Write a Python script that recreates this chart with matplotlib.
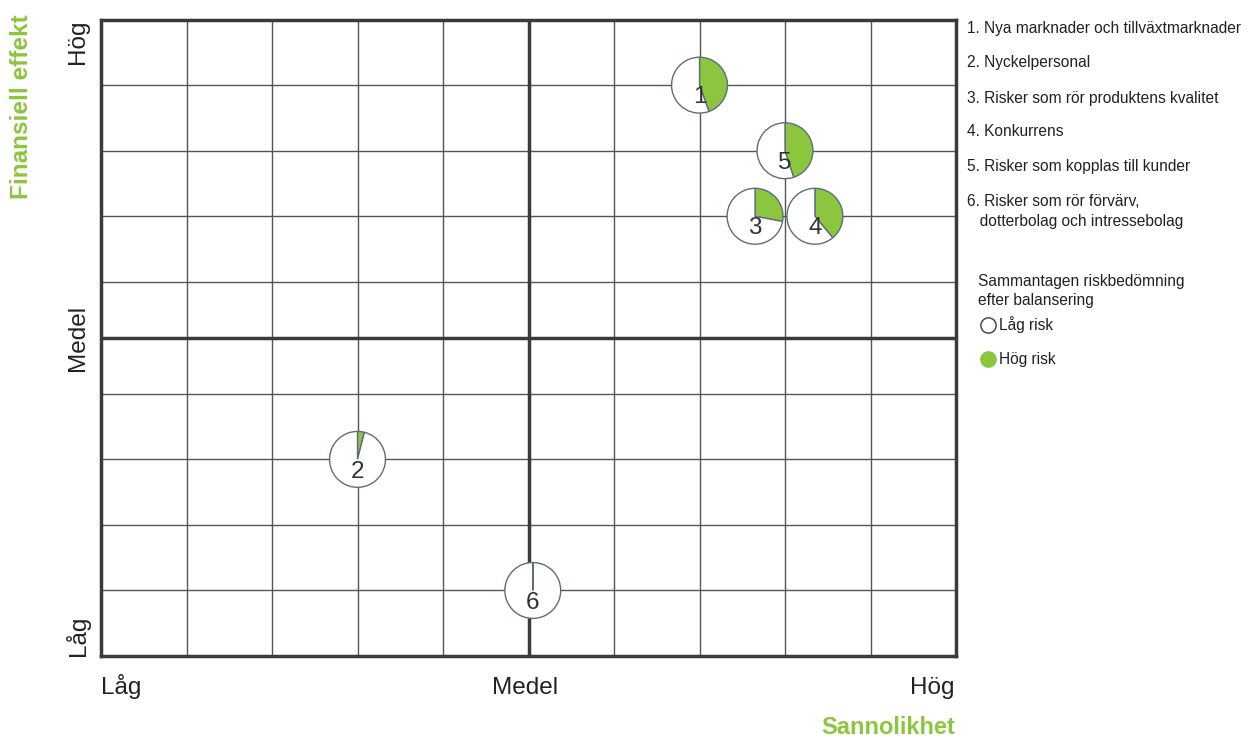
import matplotlib
matplotlib.use("Agg")
import matplotlib.pyplot as plt
from matplotlib.lines import Line2D

plt.rcParams['font.family'] = ['Liberation Sans', 'DejaVu Sans']

# risker: nummer, sannolikhet (x), finansiell effekt (y), andel hög risk
risk_names = [
    "Nya marknader och tillväxtmarknader",
    "Nyckelpersonal",
    "Risker som rör produktens kvalitet",
    "Konkurrens",
    "Risker som kopplas till kunder",
    "Risker som rör förvärv,\n   dotterbolag och intressebolag",
]
risk_ids = [1, 2, 3, 4, 5, 6]
risk_x = [7.0, 3.0, 7.65, 8.35, 8.0, 5.05]
risk_y = [8.97, 3.09, 6.91, 6.91, 7.94, 1.03]
risk_high_share = [0.445, 0.04, 0.28, 0.39, 0.45, 0.004]

grid_x = [1, 2, 3, 4, 6, 7, 8, 9]
grid_y = [1.03, 2.06, 3.09, 4.12, 5.88, 6.91, 7.94, 8.97]
mid = 5

level_labels = ["Låg", "Medel", "Hög"]

green = "#8cc63f"
edge = "#5d6d7e"
dark = "#3a3a3a"
txt = "#222222"

fig = plt.figure(figsize=(12.5, 7.4), dpi=100)
fig_w, fig_h = fig.get_size_inches() * fig.dpi
ax = fig.add_axes([0.0808, 0.1135, 0.684, 0.86])
ax.set_xlim(0, 10)
ax.set_ylim(0, 10)
ax.set_xticks([])
ax.set_yticks([])
for s in ax.spines.values():
    s.set_linewidth(2.5)
    s.set_color(dark)

for gx in grid_x:
    ax.axvline(gx, color="#555555", lw=1, zorder=1)
for gy in grid_y:
    ax.axhline(gy, color="#555555", lw=1, zorder=1)
ax.axvline(mid, color=dark, lw=2.5, zorder=2)
ax.axhline(mid, color=dark, lw=2.5, zorder=2)

# axelnivåer
base_y = 1 - 694 / fig_h
fig.text(101 / fig_w, base_y, level_labels[0], ha="left", va="baseline", fontsize=17.5, color=txt)
fig.text(525 / fig_w, base_y, level_labels[1], ha="center", va="baseline", fontsize=17.5, color=txt)
fig.text(955 / fig_w, base_y, level_labels[2], ha="right", va="baseline", fontsize=17.5, color=txt)
ax.text(-0.27, 0, level_labels[0], ha="center", va="bottom", rotation=90, fontsize=17.5, color=txt)
ax.text(-0.27, 5, level_labels[1], ha="center", va="center", rotation=90, fontsize=17.5, color=txt)
ax.text(-0.27, 10, level_labels[2], ha="center", va="top", rotation=90, fontsize=17.5, color=txt)

fig.text(955 / fig_w, 1 - 734 / fig_h, "Sannolikhet", ha="right", va="baseline", fontsize=17,
         fontweight="bold", color=green)
fig.text(22 / fig_w, 1 - 14 / fig_h, "Finansiell effekt", ha="center", va="top", rotation=90,
         fontsize=17.5, fontweight="bold", color=green)

# pajer som insatta axlar, radie i pixlar
pos = ax.get_position()
r_px = 28.5
rx = r_px / (pos.width * fig_w) * 10
ry = r_px / (pos.height * fig_h) * 10
for n, x, y, share in zip(risk_ids, risk_x, risk_y, risk_high_share):
    ia = ax.inset_axes([x - rx, y - ry, 2 * rx, 2 * ry], transform=ax.transData, zorder=5)
    ia.pie([share, 1 - share], startangle=90, counterclock=False,
           colors=[green, "white"],
           wedgeprops=dict(edgecolor=edge, linewidth=1))
    ia.text(0, -0.65, str(n), ha="center", va="baseline", fontsize=17.5, color="#333333")
    ia.set_xlim(-1.02, 1.02)
    ia.set_ylim(-1.02, 1.02)

# förklaring till höger
list_y = [29, 63, 98, 132, 166, 201]
for n, name, ly in zip(risk_ids, risk_names, list_y):
    if "\n" in name:
        fig.text(967 / fig_w, 1 - (ly - 7) / fig_h, f"{n}. {name}", ha="left", va="top",
                 fontsize=11.2, color=txt, linespacing=1.4)
    else:
        fig.text(967 / fig_w, 1 - ly / fig_h, f"{n}. {name}", ha="left", va="center",
                 fontsize=11.2, color=txt)

fig.text(978 / fig_w, 1 - 291 / fig_h, "Sammantagen riskbedömning\nefter balansering",
         ha="left", va="center", fontsize=11.2, color=txt, linespacing=1.3)
fig.text(999 / fig_w, 1 - 325 / fig_h, "Låg risk", ha="left", va="center", fontsize=11.2, color=txt)
fig.text(999 / fig_w, 1 - 359 / fig_h, "Hög risk", ha="left", va="center", fontsize=11.2, color=txt)
fig.add_artist(Line2D([988 / fig_w], [1 - 325 / fig_h], marker="o", markersize=11,
                      markerfacecolor="white", markeredgecolor="#2e3f55",
                      markeredgewidth=1, transform=fig.transFigure))
fig.add_artist(Line2D([988 / fig_w], [1 - 359 / fig_h], marker="o", markersize=11,
                      markerfacecolor=green, markeredgecolor=green,
                      transform=fig.transFigure))

fig.savefig("out.png", dpi=100)
